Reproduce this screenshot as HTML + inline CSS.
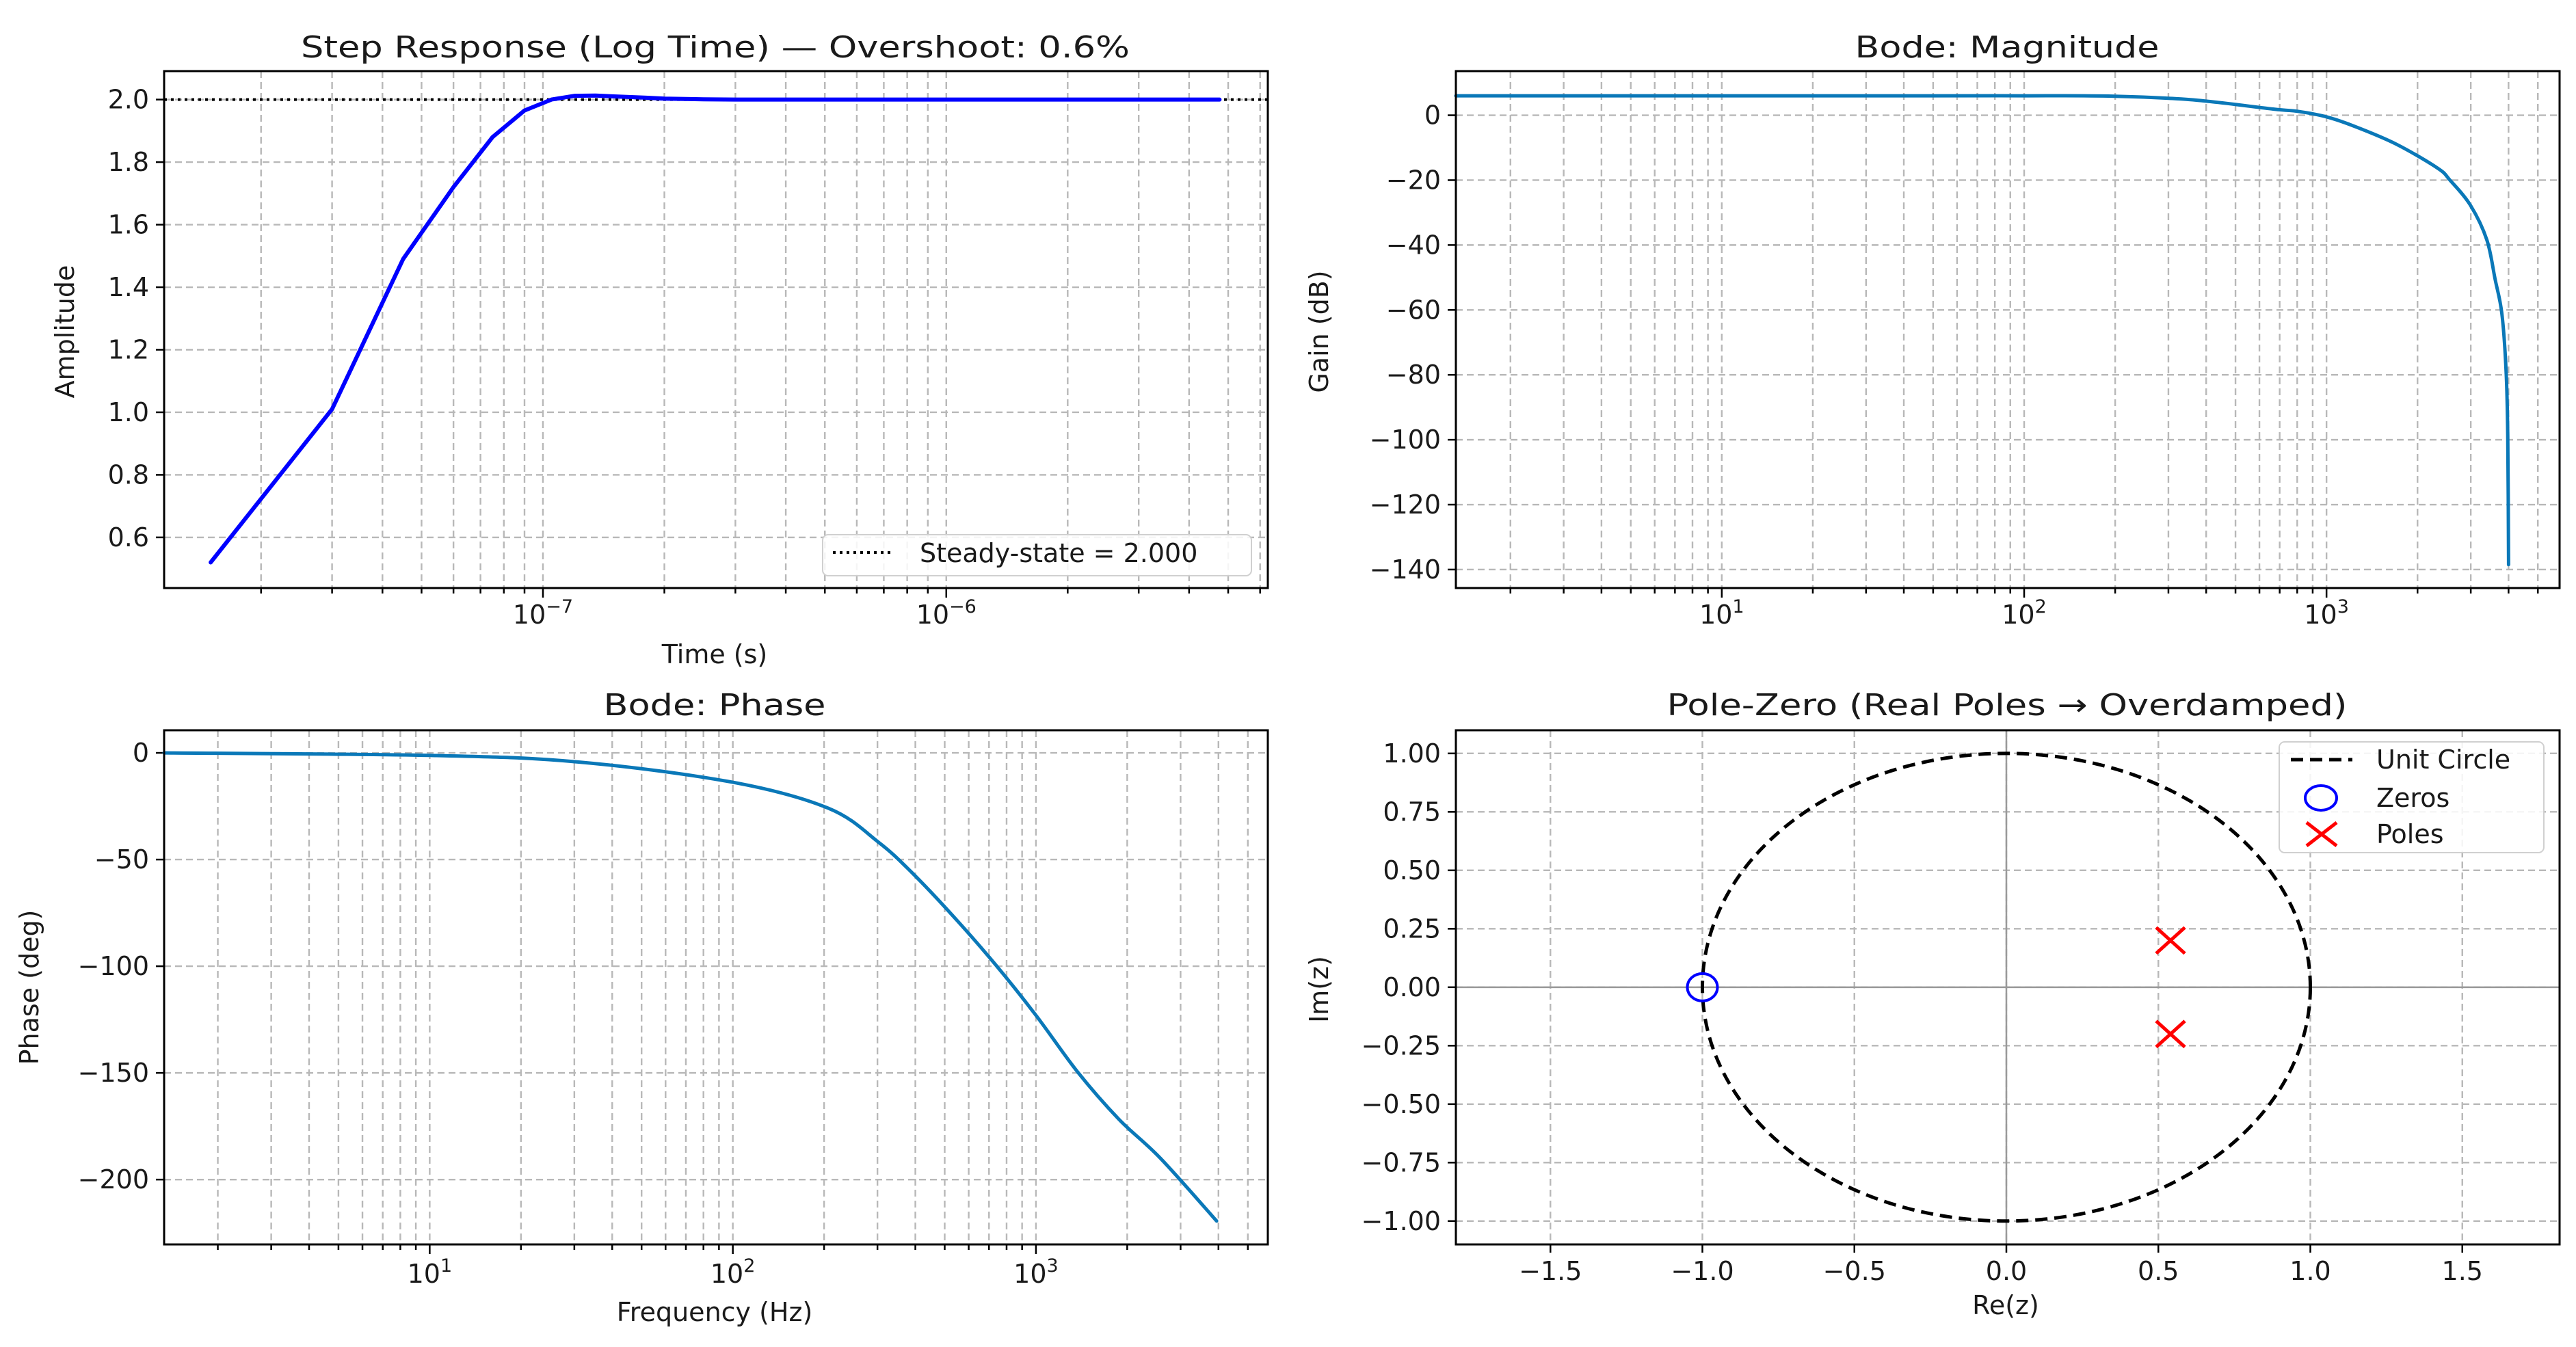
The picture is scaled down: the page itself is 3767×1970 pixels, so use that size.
<!DOCTYPE html>
<html><head><meta charset="utf-8"><style>
html,body{margin:0;padding:0;background:#fff;}
svg{display:block;}
text{font-family:"DejaVu Sans","Liberation Sans",sans-serif;fill:#1a1a1a;}
</style></head><body>
<svg id="fig" width="3767" height="1970" viewBox="0 0 3767 1970" xmlns="http://www.w3.org/2000/svg"></svg>
<script>
// ---- Step response data (time in seconds, amplitude) ----
const stepTimes = [1.5e-8,3e-8,4.5e-8,6e-8,7.5e-8,9e-8,1.05e-7,1.2e-7,1.35e-7,1.5e-7,1.8e-7,2e-7,2.5e-7,3e-7,5e-7,1e-6,2e-6,4.76e-6];
const stepValues = [0.52,1.01,1.49,1.72,1.88,1.965,2.0,2.012,2.013,2.01,2.006,2.003,2.001,2.0,2.0,2.0,2.0,2.0];
const steadyState = [2.0];
const stepYTicks = [0.6,0.8,1.0,1.2,1.4,1.6,1.8,2.0];
const stepXMajor = [-7,-6];
// ---- Bode magnitude ----
const magFreq = [1.32,10,50,100,190,355,666,803,1000,1245,1700,2330,2560,2990,3390,3610,3800,3925,3975,4000];
const magDb = [6,6,6,6,5.9,4.8,1.9,1.2,-0.5,-3.5,-8.9,-16.3,-20,-27.7,-38.4,-50.5,-61,-78.6,-98.8,-138.5];
const magYTicks = [0,-20,-40,-60,-80,-100,-120,-140];
// ---- Bode phase ----
const phFreq = [1.33,10,31,100,207,303,389,533,731,1000,1370,1877,2570,3945];
const phDeg = [0,-1.2,-4.3,-13.8,-26,-42,-56,-76.5,-98.8,-123,-149.4,-171.7,-189.9,-219.4];
const phYTicks = [0,-50,-100,-150,-200];
const freqXMajor = [1,2,3];
// ---- Pole-zero ----
const zerosRe = [-1.0];
const zerosIm = [0.0];
const polesRe = [0.54,0.54];
const polesIm = [0.2,-0.2];
const pzXTicks = [-1.5,-1.0,-0.5,0.0,0.5,1.0,1.5];
const pzYTicks = [1.0,0.75,0.5,0.25,0.0,-0.25,-0.5,-0.75,-1.0];

const NS='http://www.w3.org/2000/svg';
const svg=document.getElementById('fig');
function mk(tag,attrs,parent){const e=document.createElementNS(NS,tag);for(const k in attrs)e.setAttribute(k,attrs[k]);(parent||svg).appendChild(e);return e;}
function axis(box,xd,yd,xlog){
  const lx=v=>xlog?Math.log10(v):v;
  const x0=lx(xd[0]),x1=lx(xd[1]);
  return {box,xlog,
    x:v=>box.l+(lx(v)-x0)/(x1-x0)*(box.r-box.l),
    y:v=>box.b-(v-yd[0])/(yd[1]-yd[0])*(box.b-box.t),
    xd,yd};
}
const GRID={stroke:'#b8b8b8','stroke-width':2.4,'stroke-dasharray':'10,6',fill:'none'};
function vgrid(ax,xv,g){const X=ax.x(xv);const l=mk('line',Object.assign({x1:X,x2:X,y1:ax.box.t,y2:ax.box.b},GRID),g);

return X;}
function hgrid(ax,yv,g){const Y=ax.y(yv);const l=mk('line',Object.assign({x1:ax.box.l,x2:ax.box.r,y1:Y,y2:Y},GRID),g);

return Y;}
function tick(x1,y1,x2,y2,g){const t=mk('line',{x1,y1,x2,y2,stroke:'#000','stroke-width':2.5},g);

}
function label(txt,x,y,anchor,size,g,name){const t=mk('text',{x,y,'text-anchor':anchor,'font-size':size},g);t.textContent=txt;

return t;}
function logGrid(ax,majors,g,tickY){
  const lo=Math.floor(Math.log10(ax.xd[0])),hi=Math.ceil(Math.log10(ax.xd[1]));
  for(let d=lo;d<=hi;d++){for(let m=1;m<10;m++){const v=m*Math.pow(10,d);if(v<ax.xd[0]||v>ax.xd[1])continue;
    const X=vgrid(ax,v,g);tick(X,ax.box.b,X,ax.box.b+(m===1?14:8),g);}}
  majors.forEach(e=>{const X=ax.x(Math.pow(10,e));
    const t=mk('text',{x:X,y:tickY,'text-anchor':'middle','font-size':38},g);
    
    
    const a=mk('tspan',{},t);a.textContent='10';
    const b=mk('tspan',{dy:-16,'font-size':27},t);b.textContent=(e<0?'\u2212':'')+Math.abs(e);});
}
function yTicks(ax,vals,fmt,g){vals.forEach(v=>{const Y=hgrid(ax,v,g);tick(ax.box.l-12,Y,ax.box.l,Y,g);
  label(fmt(v),ax.box.l-22,Y+13,'end',38,g,'y-tick-label');});}
function spine(ax,g){const r=mk('rect',{x:ax.box.l,y:ax.box.t,width:ax.box.r-ax.box.l,height:ax.box.b-ax.box.t,fill:'none',stroke:'#000','stroke-width':3},g);

}
function title(txt,x,y,len,g){const t=mk('text',{x,y,'text-anchor':'middle','font-size':44,textLength:len,lengthAdjust:'spacingAndGlyphs'},g);t.textContent=txt;

}
function ylab(txt,x,y,g){const t=mk('text',{x,y,'text-anchor':'middle','font-size':38,transform:`rotate(-90 ${x} ${y})`},g);t.textContent=txt;

}
function xlab(txt,x,y,g){const t=label(txt,x,y,'middle',38,g,'x-axis-title');}
function line(ax,xs,ys,color,w,g,name,smooth){
  const P=xs.map((v,i)=>[ax.x(v),ax.y(ys[i])]);
  let d='M'+P[0][0].toFixed(1)+','+P[0][1].toFixed(1);
  for(let i=0;i<P.length-1;i++){
    if(!smooth){d+='L'+P[i+1][0].toFixed(1)+','+P[i+1][1].toFixed(1);continue;}
    const p0=P[Math.max(0,i-1)],p1=P[i],p2=P[i+1],p3=P[Math.min(P.length-1,i+2)];
    const c1=[p1[0]+(p2[0]-p0[0])/6,p1[1]+(p2[1]-p0[1])/6];
    const c2=[p2[0]-(p3[0]-p1[0])/6,p2[1]-(p3[1]-p1[1])/6];
    d+='C'+c1[0].toFixed(1)+','+c1[1].toFixed(1)+' '+c2[0].toFixed(1)+','+c2[1].toFixed(1)+' '+p2[0].toFixed(1)+','+p2[1].toFixed(1);
  }
  const p=mk('path',{d,fill:'none',stroke:color,'stroke-width':w,'stroke-linejoin':'round','stroke-linecap':'round'},g);
  
  return p;}
const fmt1=v=>(v<0?'\u2212':'')+Math.abs(v).toFixed(1);
const fmt0=v=>(v<0?'\u2212':'')+Math.abs(v).toFixed(0);
const fmt2=v=>(v<0?'\u2212':'')+Math.abs(v).toFixed(2);

// Panel 1: step response
const g1=mk('g',{});


const a1=axis({l:240,r:1854,t:104,b:860},[1.15e-8,6.27e-6],[0.438,2.091],true);
logGrid(a1,stepXMajor,g1,912);
yTicks(a1,stepYTicks,fmt1,g1);
const ssY=a1.y(steadyState[0]);
const ss=mk('line',{x1:a1.box.l,x2:a1.box.r,y1:ssY,y2:ssY,stroke:'#000','stroke-width':4,'stroke-dasharray':'4,6'},g1);


line(a1,stepTimes,stepValues,'#0000ff',6,g1,'step-response-line',false);
spine(a1,g1);
title('Step Response (Log Time) \u2014 Overshoot: 0.6%',1046,84,1212,g1);
ylab('Amplitude',108,485,g1);
xlab('Time (s)',1045,970,g1);
const lg1=mk('rect',{x:1203,y:782,width:627,height:60,rx:8,fill:'#fff','fill-opacity':0.85,stroke:'#d0d0d0','stroke-width':2},g1);


const lgl=mk('line',{x1:1218,x2:1303,y1:808,y2:808,stroke:'#000','stroke-width':4,'stroke-dasharray':'4,6'},g1);


label('Steady-state = 2.000',1345,822,'start',38,g1,'legend-steady-state-label');

// Panel 2: Bode magnitude
const g2=mk('g',{});


const a2=axis({l:2129,r:3743,t:104,b:860},[1.32,5900],[-145.7,13.6],true);
logGrid(a2,freqXMajor,g2,912);
yTicks(a2,magYTicks,fmt0,g2);
line(a2,magFreq,magDb,'#0a78b8',5,g2,'magnitude-line',true);
spine(a2,g2);
title('Bode: Magnitude',2935,84,445,g2);
ylab('Gain (dB)',1942,485,g2);

// Panel 3: Bode phase
const g3=mk('g',{});


const a3=axis({l:240,r:1854,t:1068,b:1820},[1.33,5820],[-230.4,10.6],true);
logGrid(a3,freqXMajor,g3,1876);
yTicks(a3,phYTicks,fmt0,g3);
line(a3,phFreq,phDeg,'#0a78b8',5,g3,'phase-line',true);
spine(a3,g3);
title('Bode: Phase',1045,1046,325,g3);
ylab('Phase (deg)',56,1444,g3);
xlab('Frequency (Hz)',1045,1932,g3);

// Panel 4: Pole-zero
const g4=mk('g',{});


const a4=axis({l:2129,r:3743,t:1068,b:1820},[-1.811,1.82],[-1.1,1.099],false);
pzXTicks.forEach(v=>{const X=vgrid(a4,v,g4);tick(X,a4.box.b,X,a4.box.b+12,g4);label(fmt1(v),X,1872,'middle',38,g4,'x-tick-label');});
yTicks(a4,pzYTicks,fmt2,g4);
const ax0=mk('line',{x1:a4.x(0),x2:a4.x(0),y1:a4.box.t,y2:a4.box.b,stroke:'#999','stroke-width':2.5},g4);


const ay0=mk('line',{x1:a4.box.l,x2:a4.box.r,y1:a4.y(0),y2:a4.y(0),stroke:'#999','stroke-width':2.5},g4);


const uc=mk('ellipse',{cx:a4.x(0),cy:a4.y(0),rx:a4.x(1)-a4.x(0),ry:a4.y(0)-a4.y(1),fill:'none',stroke:'#000','stroke-width':5,'stroke-dasharray':'18,10'},g4);


zerosRe.forEach((r,i)=>{const z=mk('ellipse',{cx:a4.x(r),cy:a4.y(zerosIm[i]),rx:22,ry:20,fill:'none',stroke:'#0000ff','stroke-width':4},g4);

});
polesRe.forEach((r,i)=>{const cx=a4.x(r),cy=a4.y(polesIm[i]);
const p=mk('path',{d:`M${cx-21},${cy-19}L${cx+21},${cy+19}M${cx-21},${cy+19}L${cx+21},${cy-19}`,stroke:'#ff0000','stroke-width':5,fill:'none'},g4);

});
spine(a4,g4);
title('Pole-Zero (Real Poles \u2192 Overdamped)',2935,1046,995,g4);
ylab('Im(z)',1942,1447,g4);
xlab('Re(z)',2933,1922,g4);
const lg4=mk('rect',{x:3333,y:1085,width:387,height:162,rx:8,fill:'#fff','fill-opacity':0.85,stroke:'#d0d0d0','stroke-width':2},g4);


const l1=mk('line',{x1:3350,x2:3440,y1:1111,y2:1111,stroke:'#000','stroke-width':5,'stroke-dasharray':'18,10'},g4);


label('Unit Circle',3475,1124,'start',38,g4,'legend-unit-circle-label');
const l2=mk('ellipse',{cx:3394,cy:1167,rx:23,ry:18,fill:'none',stroke:'#0000ff','stroke-width':4},g4);


label('Zeros',3475,1180,'start',38,g4,'legend-zeros-label');
const l3=mk('path',{d:'M3373,1203L3417,1237M3373,1237L3417,1203',stroke:'#ff0000','stroke-width':5,fill:'none'},g4);


label('Poles',3475,1233,'start',38,g4,'legend-poles-label');
</script>
</body></html>
